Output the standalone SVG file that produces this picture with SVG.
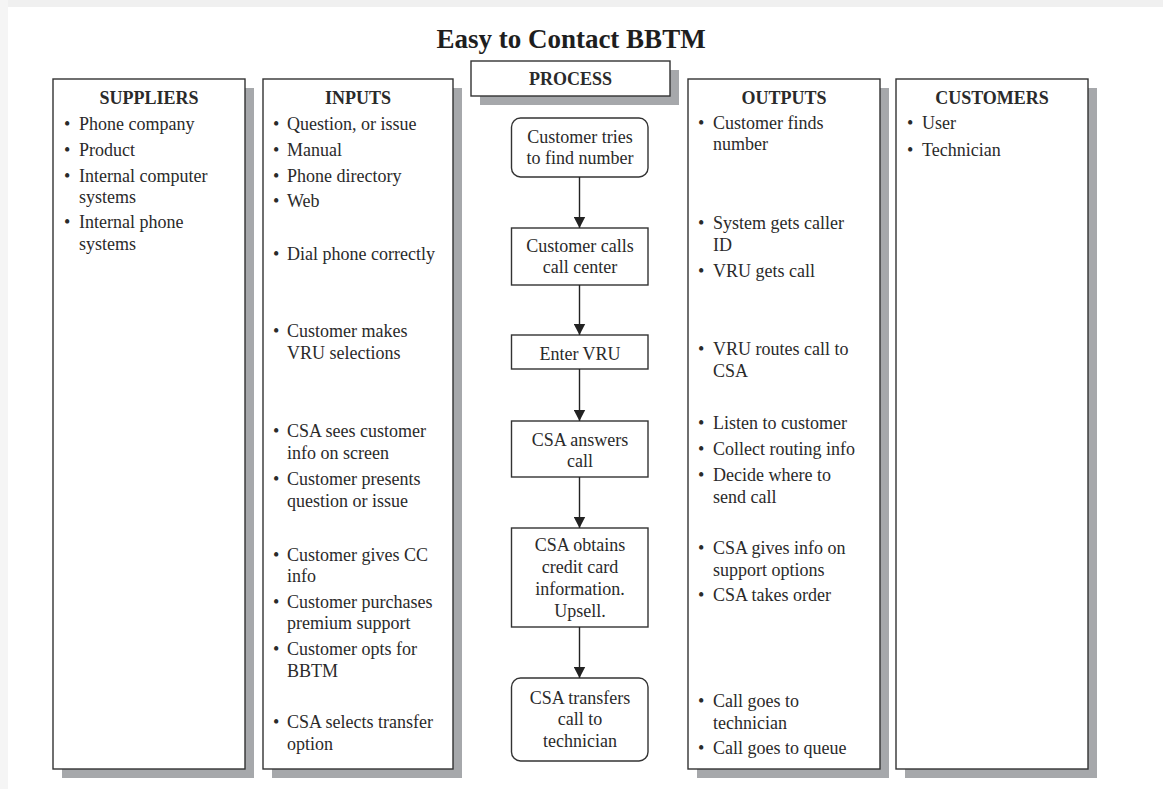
<svg xmlns="http://www.w3.org/2000/svg" width="1163" height="789" viewBox="0 0 1163 789">
  <defs>
    <marker id="arrow" markerWidth="12" markerHeight="12" refX="11" refY="6" orient="auto" markerUnits="userSpaceOnUse">
      <path d="M0,0.3 L11,6 L0,11.7 Z" fill="#222"/>
    </marker>
  </defs>
  <style>
    text { font-family: "Liberation Serif", "Times New Roman", serif; fill: #2a2a2a; }
    .title { font-size: 27px; font-weight: bold; text-anchor: middle; fill: #1e1e1e; }
    .head { font-size: 18px; font-weight: bold; text-anchor: middle; }
    .body { font-size: 18px; }
    .mid { font-size: 18px; text-anchor: middle; }
    .panel { fill: #ffffff; stroke: #333; stroke-width: 1.4; }
    .shadow { fill: #a6a8ab; }
    .step { fill: #ffffff; stroke: #333; stroke-width: 1.4; }
    .edge { stroke: #222; stroke-width: 1.4; fill: none; marker-end: url(#arrow); }
  </style>

  <!-- page background and faint page edge -->
  <rect x="0" y="0" width="1163" height="789" fill="#ffffff"/>
  <rect x="0" y="0" width="1163" height="7" fill="#f0f0f0"/>
  <rect x="0" y="0" width="8" height="789" fill="#f5f5f5"/>

  <text class="title" x="571" y="48">Easy to Contact BBTM</text>

  <!-- SUPPLIERS column -->
  <g id="suppliers">
    <rect class="shadow" x="62" y="88" width="192" height="690"/>
    <rect class="panel" x="53" y="79" width="192" height="690"/>
    <text class="head" x="149" y="104">SUPPLIERS</text>
    <g class="body">
      <text x="64" y="130">•</text><text x="79" y="130">Phone company</text>
      <text x="64" y="156">•</text><text x="79" y="156">Product</text>
      <text x="64" y="182">•</text><text x="79" y="182">Internal computer</text>
      <text x="79" y="203">systems</text>
      <text x="64" y="228">•</text><text x="79" y="228">Internal phone</text>
      <text x="79" y="250">systems</text>
    </g>
  </g>

  <!-- INPUTS column -->
  <g id="inputs">
    <rect class="shadow" x="272" y="88" width="190" height="690"/>
    <rect class="panel" x="263" y="79" width="190" height="690"/>
    <text class="head" x="358" y="104">INPUTS</text>
    <g class="body">
      <text x="273" y="130">•</text><text x="287" y="130">Question, or issue</text>
      <text x="273" y="156">•</text><text x="287" y="156">Manual</text>
      <text x="273" y="182">•</text><text x="287" y="182">Phone directory</text>
      <text x="273" y="207">•</text><text x="287" y="207">Web</text>
      <text x="273" y="260">•</text><text x="287" y="260">Dial phone correctly</text>
      <text x="273" y="337">•</text><text x="287" y="337">Customer makes</text>
      <text x="287" y="359">VRU selections</text>
      <text x="273" y="437">•</text><text x="287" y="437">CSA sees customer</text>
      <text x="287" y="459">info on screen</text>
      <text x="273" y="485">•</text><text x="287" y="485">Customer presents</text>
      <text x="287" y="507">question or issue</text>
      <text x="273" y="561">•</text><text x="287" y="561">Customer gives CC</text>
      <text x="287" y="582">info</text>
      <text x="273" y="608">•</text><text x="287" y="608">Customer purchases</text>
      <text x="287" y="629">premium  support</text>
      <text x="273" y="655">•</text><text x="287" y="655">Customer opts for</text>
      <text x="287" y="677">BBTM</text>
      <text x="273" y="728">•</text><text x="287" y="728">CSA selects transfer</text>
      <text x="287" y="750">option</text>
    </g>
  </g>

  <!-- PROCESS header -->
  <g id="process">
    <rect class="shadow" x="480" y="70" width="199" height="35"/>
    <rect class="panel" x="471" y="61" width="199" height="35"/>
    <text class="head" x="570.5" y="85">PROCESS</text>
  </g>

  <!-- process steps -->
  <g id="step1">
    <rect class="step" x="511.5" y="118" width="136.5" height="59" rx="9" ry="9"/>
    <text class="mid" x="580" y="143">Customer tries</text>
    <text class="mid" x="580" y="164">to find number</text>
  </g>
  <g id="step2">
    <rect class="step" x="511.5" y="228" width="136.5" height="57"/>
    <text class="mid" x="580" y="252">Customer calls</text>
    <text class="mid" x="580" y="273">call center</text>
  </g>
  <g id="step3">
    <rect class="step" x="511.5" y="335" width="136.5" height="34"/>
    <text class="mid" x="580" y="360">Enter VRU</text>
  </g>
  <g id="step4">
    <rect class="step" x="511.5" y="421" width="136.5" height="56"/>
    <text class="mid" x="580" y="446">CSA answers</text>
    <text class="mid" x="580" y="467">call</text>
  </g>
  <g id="step5">
    <rect class="step" x="511.5" y="528" width="136.5" height="99"/>
    <text class="mid" x="580" y="551">CSA obtains</text>
    <text class="mid" x="580" y="573">credit card</text>
    <text class="mid" x="580" y="595">information.</text>
    <text class="mid" x="580" y="617">Upsell.</text>
  </g>
  <g id="step6">
    <rect class="step" x="511.5" y="678" width="136.5" height="83" rx="9" ry="9"/>
    <text class="mid" x="580" y="704">CSA transfers</text>
    <text class="mid" x="580" y="725">call to</text>
    <text class="mid" x="580" y="747">technician</text>
  </g>

  <!-- flow connectors -->
  <g id="connectors">
    <line class="edge" x1="579.5" y1="177" x2="579.5" y2="228"/>
    <line class="edge" x1="579.5" y1="285" x2="579.5" y2="335"/>
    <line class="edge" x1="579.5" y1="369" x2="579.5" y2="421"/>
    <line class="edge" x1="579.5" y1="477" x2="579.5" y2="528"/>
    <line class="edge" x1="579.5" y1="627" x2="579.5" y2="678"/>
  </g>

  <!-- OUTPUTS column -->
  <g id="outputs">
    <rect class="shadow" x="697" y="88" width="192" height="690"/>
    <rect class="panel" x="688" y="79" width="192" height="690"/>
    <text class="head" x="784" y="104">OUTPUTS</text>
    <g class="body">
      <text x="698" y="129">•</text><text x="713" y="129">Customer finds</text>
      <text x="713" y="150">number</text>
      <text x="698" y="229">•</text><text x="713" y="229">System gets caller</text>
      <text x="713" y="251">ID</text>
      <text x="698" y="277">•</text><text x="713" y="277">VRU gets call</text>
      <text x="698" y="355">•</text><text x="713" y="355">VRU routes call to</text>
      <text x="713" y="377">CSA</text>
      <text x="698" y="429">•</text><text x="713" y="429">Listen to customer</text>
      <text x="698" y="455">•</text><text x="713" y="455">Collect routing info</text>
      <text x="698" y="481">•</text><text x="713" y="481">Decide where to</text>
      <text x="713" y="503">send call</text>
      <text x="698" y="554">•</text><text x="713" y="554">CSA gives info on</text>
      <text x="713" y="576">support options</text>
      <text x="698" y="601">•</text><text x="713" y="601">CSA takes order</text>
      <text x="698" y="707">•</text><text x="713" y="707">Call goes to</text>
      <text x="713" y="729">technician</text>
      <text x="698" y="754">•</text><text x="713" y="754">Call goes to queue</text>
    </g>
  </g>

  <!-- CUSTOMERS column -->
  <g id="customers">
    <rect class="shadow" x="905" y="88" width="192" height="690"/>
    <rect class="panel" x="896" y="79" width="192" height="690"/>
    <text class="head" x="992" y="104">CUSTOMERS</text>
    <g class="body">
      <text x="907" y="129">•</text><text x="922" y="129">User</text>
      <text x="907" y="156">•</text><text x="922" y="156">Technician</text>
    </g>
  </g>
</svg>
